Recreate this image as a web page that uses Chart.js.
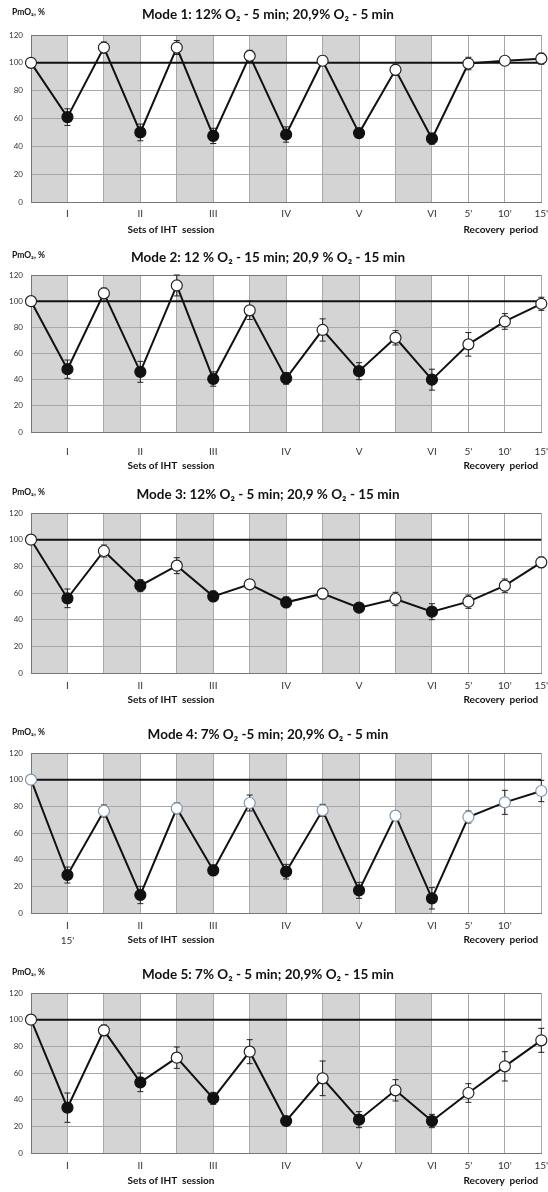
<!DOCTYPE html>
<html>
<head>
<meta charset="utf-8">
<script src="https://cdn.jsdelivr.net/npm/chart.js@4.4.1/dist/chart.umd.min.js"></script>
<style>
  html, body { margin: 0; padding: 0; background: #fff; }
  #wrap { position: relative; width: 548px; height: 1192px; overflow: hidden; }
  canvas { display: block; position: absolute; left: 0; }
</style>
</head>
<body>
<div id="wrap">
  <canvas id="mode1" width="548" height="240" style="top:0px"></canvas>
  <canvas id="mode2" width="548" height="240" style="top:240px"></canvas>
  <canvas id="mode3" width="548" height="240" style="top:480px"></canvas>
  <canvas id="mode4" width="548" height="240" style="top:720px"></canvas>
  <canvas id="mode5" width="548" height="232" style="top:960px"></canvas>
</div>
<script>
// x categories (15 measurement points) and their tick labels
const labels = ["", "I", "", "II", "", "III", "", "IV", "", "V", "", "VI", "5'", "10'", "15'"];
const labelsMode4 = ["", ["I", "15'"], "", "II", "", "III", "", "IV", "", "V", "", "VI", "5'", "10'", ""];
const yTicks = [0, 20, 40, 60, 80, 100, 120];
const baseline = [100, 100, 100, 100, 100, 100, 100, 100, 100, 100, 100, 100, 100, 100, 100];

const titles = [
  "Mode 1: 12% O₂ - 5 min; 20,9% O₂ - 5 min",
  "Mode 2: 12 % O₂ - 15 min; 20,9 % O₂ - 15 min",
  "Mode 3: 12% O₂ - 5 min; 20,9 % O₂ - 15 min",
  "Mode 4: 7% O₂ -5 min; 20,9% O₂ - 5 min",
  "Mode 5: 7% O₂ - 5 min; 20,9% O₂ - 15 min",
];

// PmO2, % (mean) and error bar half-length per point
const mode1Values = [100, 61, 111, 50, 111, 47.5, 105, 48.5, 101.5, 49.5, 95, 45.5, 99.5, 101.5, 103];
const mode1Errors = [0, 6, 4, 6, 5, 5.5, 4, 5.5, 3.5, 3, 4, 4, 4.5, 3, 4];
const mode2Values = [100, 48, 106, 46, 112, 40.5, 93, 41, 78, 46.5, 72, 40, 67, 84.5, 98];
const mode2Errors = [0, 7, 4, 8, 8, 5.5, 7, 4.5, 8.5, 6.5, 5.5, 8, 9, 6, 5];
const mode3Values = [100, 56, 91.5, 65.5, 80.5, 57.5, 66.5, 53, 59.5, 49, 55.5, 46, 53.5, 65.5, 83];
const mode3Errors = [0, 7, 4.5, 4.5, 6, 4, 3, 4, 4, 3, 5, 6, 5, 5, 4];
const mode4Values = [100, 28.5, 76.5, 13.5, 78.5, 32, 82.5, 31, 77, 17, 73, 11, 72, 83, 91.5];
const mode4Errors = [0, 6, 4.5, 6.5, 4, 4, 6, 5.5, 4.5, 6, 3, 8, 4.5, 9, 8];
const mode5Values = [100, 34, 92, 53, 71.5, 41, 76, 24, 56, 25, 47, 24, 45, 65, 84.5];
const mode5Errors = [0, 11, 4, 7, 8, 4.5, 9, 3, 13, 6, 8, 5, 7, 11, 9];

const FONT = "Lato";

const panelPlugin = {
  id: "panelDecor",
  beforeDraw(chart) {
    const { ctx, chartArea } = chart;
    const x = chart.scales.x;
    ctx.save();
    ctx.fillStyle = "#d4d4d4";
    for (let i = 0; i < 12; i += 2) {
      const x0 = x.getPixelForValue(i);
      const x1 = x.getPixelForValue(i + 1);
      ctx.fillRect(x0, chartArea.top, x1 - x0, chartArea.bottom - chartArea.top);
    }
    ctx.restore();
  },
  beforeDatasetsDraw(chart) {
    const { ctx } = chart;
    const x = chart.scales.x;
    const y = chart.scales.y;
    const vals = chart.data.datasets[0].data;
    const errs = chart.options.plugins.panelDecor.errors;
    ctx.save();
    ctx.strokeStyle = "#222";
    ctx.lineWidth = 1;
    vals.forEach((v, i) => {
      if (!errs[i]) return;
      const px = x.getPixelForValue(i);
      const top = y.getPixelForValue(v + errs[i]);
      const bot = y.getPixelForValue(v - errs[i]);
      ctx.beginPath();
      ctx.moveTo(px, top);
      ctx.lineTo(px, bot);
      ctx.moveTo(px - 3, top);
      ctx.lineTo(px + 3, top);
      ctx.moveTo(px - 3, bot);
      ctx.lineTo(px + 3, bot);
      ctx.stroke();
    });
    ctx.restore();
  },
  afterDraw(chart) {
    const { ctx, chartArea } = chart;
    const opts = chart.options.plugins.panelDecor;
    const x = chart.scales.x;
    ctx.save();
    ctx.fillStyle = "#111";
    ctx.textBaseline = "middle";
    ctx.textAlign = "center";
    ctx.font = "bold 13.5px " + FONT;
    ctx.fillText(opts.title, 268, opts.titleY);
    ctx.textAlign = "left";
    ctx.font = "bold 8.5px " + FONT;
    ctx.fillText("PmO₂, %", 12, opts.titleY - 3);
    ctx.font = "bold 10px " + FONT;
    ctx.textAlign = "center";
    ctx.fillText("Sets of IHT  session", 171, opts.captionY);
    ctx.textAlign = "right";
    ctx.fillText("Recovery  period", chartArea.right - 3, opts.captionY);
    ctx.restore();
  },
};

function makeChart(id, values, errors, title, tickLabels, openBorder, lay) {
  const ctx = document.getElementById(id).getContext("2d");
  const H = ctx.canvas.height;
  const isFilled = (c) => c.dataIndex % 2 === 1 && c.dataIndex < 12;
  return new Chart(ctx, {
    type: "line",
    data: {
      labels: tickLabels,
      datasets: [
        {
          data: values,
          borderColor: "#111",
          borderWidth: 2,
          tension: 0,
          pointRadius: 5.5,
          pointHoverRadius: 5.5,
          pointBorderWidth: 1.2,
          pointBackgroundColor: (c) => (isFilled(c) ? "#111" : "#fff"),
          pointBorderColor: (c) => (isFilled(c) ? "#111" : openBorder),
        },
        {
          data: baseline,
          borderColor: "#111",
          borderWidth: 2,
          pointRadius: 0,
          tension: 0,
        },
      ],
    },
    options: {
      responsive: false,
      animation: false,
      devicePixelRatio: 1,
      layout: { padding: { top: lay.plotTop, right: 2, left: 0, bottom: 0 } },
      scales: {
        x: {
          type: "category",
          offset: false,
          afterFit: (s) => {
            s.height = H - lay.plotBottom;
            s.paddingLeft = 0;
            s.paddingRight = 0;
          },
          grid: { color: "#a8a8a8", lineWidth: 1, drawTicks: false, offset: false },
          border: { color: "#777", width: 1 },
          ticks: {
            autoSkip: false,
            maxRotation: 0,
            padding: lay.labelY - lay.plotBottom - 7,
            color: "#333",
            font: { family: FONT, size: 10, lineHeight: 1.5 },
          },
        },
        y: {
          min: 0,
          max: 120,
          afterFit: (s) => {
            s.width = 31;
            s.paddingTop = 0;
            s.paddingBottom = 0;
          },
          afterBuildTicks: (s) => { s.ticks = yTicks.map((v) => ({ value: v })); },
          grid: {
            color: (c) => (c.tick && c.tick.value === 120 ? "#777" : "#a8a8a8"),
            lineWidth: 1,
            drawTicks: false,
          },
          border: { color: "#777", width: 1 },
          ticks: {
            padding: 8,
            color: "#333",
            font: { family: FONT, size: 8 },
          },
        },
      },
      plugins: {
        legend: { display: false },
        tooltip: { enabled: false },
        title: { display: false },
        panelDecor: { errors: errors, title: title, titleY: lay.titleY, captionY: lay.captionY },
      },
    },
    plugins: [panelPlugin],
  });
}

makeChart("mode1", mode1Values, mode1Errors, titles[0], labels, "#222",
  { titleY: 15, plotTop: 35, plotBottom: 202, labelY: 213, captionY: 230 });
makeChart("mode2", mode2Values, mode2Errors, titles[1], labels, "#222",
  { titleY: 18, plotTop: 35, plotBottom: 192, labelY: 211, captionY: 226 });
makeChart("mode3", mode3Values, mode3Errors, titles[2], labels, "#222",
  { titleY: 15, plotTop: 33, plotBottom: 193, labelY: 205, captionY: 220 });
makeChart("mode4", mode4Values, mode4Errors, titles[3], labelsMode4, "#7f93b5",
  { titleY: 15, plotTop: 33, plotBottom: 193, labelY: 205, captionY: 220 });
makeChart("mode5", mode5Values, mode5Errors, titles[4], labels, "#222",
  { titleY: 15, plotTop: 33, plotBottom: 193, labelY: 205, captionY: 221 });
</script>
</body>
</html>
